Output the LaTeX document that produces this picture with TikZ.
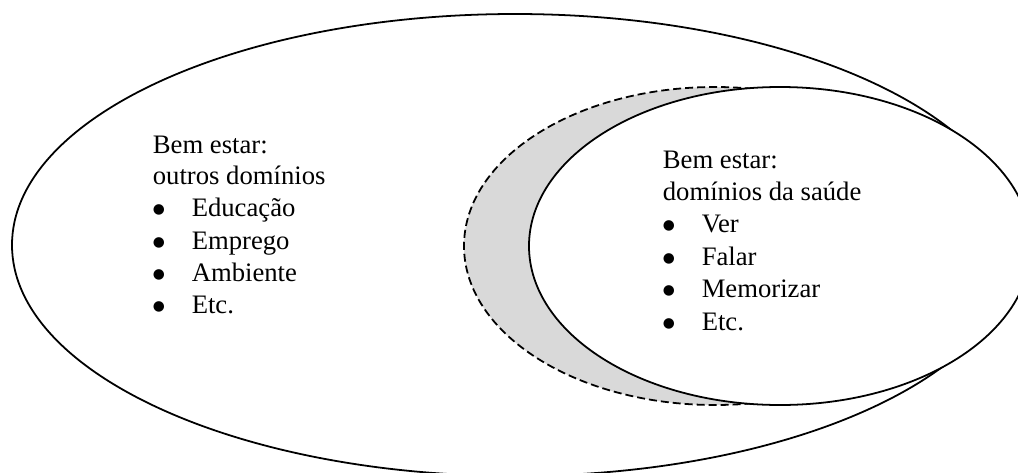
\documentclass[tikz,border=0pt]{standalone}
\usepackage{fontspec}
\setmainfont{Liberation Serif}
\newfontfamily\dotfont{DejaVu Sans}
\usepackage{tikz}

\newcommand{\bul}[1]{\makebox[17.5pt][l]{\raisebox{1.3pt}{\dotfont\fontsize{6.2}{6.2}\selectfont ●}}#1}
\tikzset{
  txt/.style={anchor=base west, inner sep=0pt, font=\fontsize{12}{14}\selectfont},
  shifted/.style={dash pattern=on 3.6pt off 1.8pt, fill=black!15}
}

\begin{document}
\begin{tikzpicture}[x=0.45pt, y=0.45pt, line width=0.8pt]
\useasboundingbox (0,0) rectangle (1018,472);
\clip (0,0) rectangle (1018,472);

\draw (515,227) ellipse [x radius=503, y radius=231];
\draw[shifted] (715,226) ellipse [x radius=251, y radius=159];
\draw[fill=white] (780,226) ellipse [x radius=251, y radius=159];

\node[txt] (otherhead) at (152,319) {Bem estar:};
\node[txt] (othersub) at (152,288) {outros domínios};
\node[txt] (other1) at (152,256) {\bul{Educação}};
\node[txt] (other2) at (152,223) {\bul{Emprego}};
\node[txt] (other3) at (152,191) {\bul{Ambiente}};
\node[txt] (other4) at (152,159) {\bul{Etc.}};

\node[txt] (healthhead) at (662,304) {Bem estar:};
\node[txt] (healthsub) at (662,272) {domínios da saúde};
\node[txt] (health1) at (662,240) {\bul{Ver}};
\node[txt] (health2) at (662,207) {\bul{Falar}};
\node[txt] (health3) at (662,175) {\bul{Memorizar}};
\node[txt] (health4) at (662,142) {\bul{Etc.}};
\end{tikzpicture}
\end{document}
